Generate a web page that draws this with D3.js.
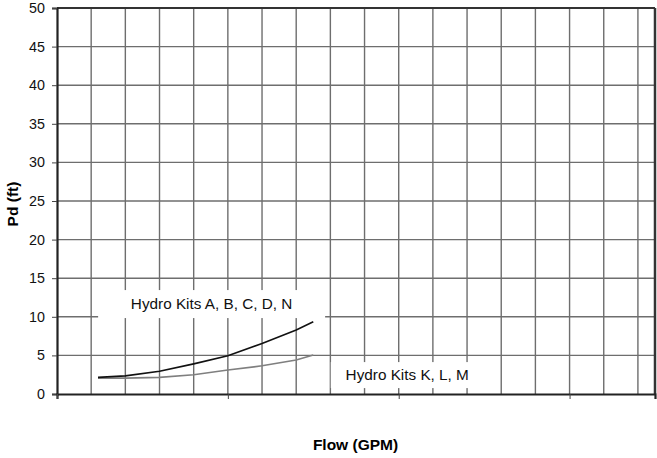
<!DOCTYPE html>
<html>
<head>
<meta charset="utf-8">
<script src="https://cdn.jsdelivr.net/npm/d3@7"></script>
<style>
  body { margin: 0; background: #fff; }
  text { font-family: "Liberation Sans", Arial, sans-serif; }
</style>
</head>
<body>
<svg id="chart"></svg>
<script>
// data
var flow = [2.4, 4, 6, 8, 10, 12, 14, 15];
var kitsABCDN = [2.15, 2.35, 2.95, 3.9, 4.95, 6.55, 8.3, 9.35];
var kitsKLM = [2.05, 2.05, 2.15, 2.5, 3.1, 3.65, 4.4, 5.05];
var yTicks = [0, 5, 10, 15, 20, 25, 30, 35, 40, 45, 50];
var xMajor = [0, 10, 20, 30];
var xGrid = d3.range(0, 35, 2);
var seriesNames = ["Hydro Kits A, B, C, D, N", "Hydro Kits K, L, M"];

//define scales, margin
var margin = {top: 8, right: 2, bottom: 64, left: 57},
    width = 657 - margin.left - margin.right,
    height = 458 - margin.top - margin.bottom;

var xScale = d3.scaleLinear().domain([0, 35]).range([0, width]);
var yScale = d3.scaleLinear().domain([0, 50]).range([height, 0]);

var svgtop = d3.select("#chart")
  .attr("width", 657)
  .attr("height", 458);

var svg = svgtop.append("g")
  .attr("transform", "translate(" + margin.left + "," + margin.top + ")");

//grid
svg.selectAll(".vgrid")
  .data(xGrid.slice(1))
  .enter().append("line")
  .attr("class", "vgrid")
  .attr("x1", function(d) { return xScale(d); })
  .attr("x2", function(d) { return xScale(d); })
  .attr("y1", 0)
  .attr("y2", height)
  .attr("stroke", "#6e6e6e")
  .attr("stroke-width", 1.4);

svg.selectAll(".hgrid")
  .data(yTicks.slice(1))
  .enter().append("line")
  .attr("class", "hgrid")
  .attr("x1", 0)
  .attr("x2", width)
  .attr("y1", function(d) { return yScale(d); })
  .attr("y2", function(d) { return yScale(d); })
  .attr("stroke", "#6e6e6e")
  .attr("stroke-width", 1.4);

//frame top and right
svg.append("line")
  .attr("x1", 0).attr("x2", width)
  .attr("y1", 0).attr("y2", 0)
  .attr("stroke", "#333").attr("stroke-width", 2);
svg.append("line")
  .attr("x1", width).attr("x2", width)
  .attr("y1", 0).attr("y2", height)
  .attr("stroke", "#333").attr("stroke-width", 2.5);

//series lines
var line = d3.line()
  .x(function(d, i) { return xScale(flow[i]); })
  .y(function(d) { return yScale(d); });

svg.append("path")
  .datum(kitsKLM)
  .attr("fill", "none")
  .attr("stroke", "#7f7f7f")
  .attr("stroke-width", 1.6)
  .attr("d", line);

svg.append("path")
  .datum(kitsABCDN)
  .attr("fill", "none")
  .attr("stroke", "#111")
  .attr("stroke-width", 1.6)
  .attr("d", line);

//series labels with white boxes (position in data units)
var labels = [
  {name: seriesNames[0], x: 9.05, y: 11.65, w: 227, h: 28},
  {name: seriesNames[1], x: 20.5, y: 2.45, w: 153, h: 26}
];
labels.forEach(function(l) {
  var cx = xScale(l.x), cy = yScale(l.y);
  svg.append("rect")
    .attr("x", cx - l.w / 2)
    .attr("y", cy - l.h / 2)
    .attr("width", l.w)
    .attr("height", l.h)
    .attr("fill", "#fff");
  svg.append("text")
    .attr("x", cx)
    .attr("y", cy + 4.5)
    .style("text-anchor", "middle")
    .style("font-size", "15.3px")
    .attr("fill", "#111")
    .text(l.name);
});

//axes
var yAxis = svg.append("g")
  .call(d3.axisLeft(yScale).tickValues(yTicks).tickSize(5).tickPadding(7));
yAxis.select(".domain").attr("stroke", "#222").attr("stroke-width", 2.2);
yAxis.selectAll(".tick line").attr("stroke", "#444");
yAxis.selectAll("text")
  .style("font-size", "14.3px")
  .style("font-family", "Liberation Sans, Arial, sans-serif")
  .attr("fill", "#111");

var xAxis = svg.append("g")
  .attr("transform", "translate(0," + height + ")")
  .call(d3.axisBottom(xScale).tickValues(xMajor).tickSize(5).tickFormat(""));
xAxis.select(".domain").attr("stroke", "#222").attr("stroke-width", 2.2);
xAxis.selectAll(".tick line").attr("stroke", "#444");

//axis titles
svgtop.append("text")
  .attr("transform", "rotate(-90)")
  .attr("x", -204)
  .attr("y", 18)
  .style("text-anchor", "middle")
  .style("font-size", "15.5px")
  .style("font-weight", "bold")
  .text("Pd (ft)");

svgtop.append("text")
  .attr("x", 355.5)
  .attr("y", 450)
  .style("text-anchor", "middle")
  .style("font-size", "15.5px")
  .style("font-weight", "bold")
  .text("Flow (GPM)");
</script>
</body>
</html>
